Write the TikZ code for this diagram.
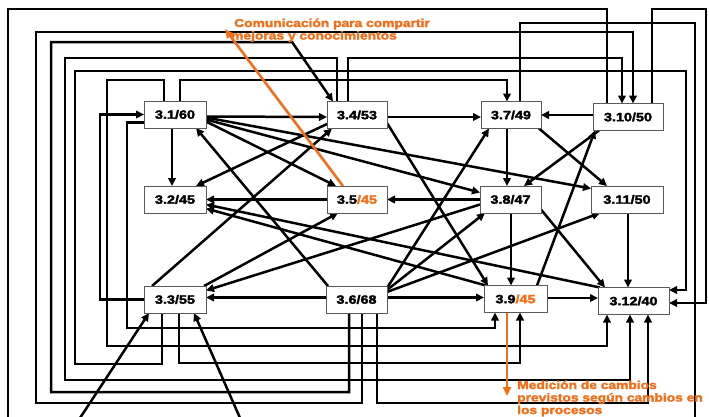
\documentclass[tikz,border=0pt]{standalone}
\usepackage{fontspec}
\setmainfont{Liberation Sans}[FakeStretch=1.2,BoldFeatures={FakeBold=2.5}]
\usetikzlibrary{arrows.meta,calc}
\definecolor{orng}{RGB}{242,110,24}
\definecolor{boxline}{RGB}{90,90,90}
\pgfdeclarelayer{bg}
\pgfsetlayers{bg,main}
\begin{document}
\begin{tikzpicture}[x=1pt,y=-1pt,
  box/.style={draw=boxline,line width=0.9pt,fill=white,inner sep=0pt,outer sep=0pt,minimum height=27pt,font=\fontsize{12}{12}\selectfont\bfseries},
  ln/.style={line width=2.5pt,black},
  arr/.style={ln,-{Triangle[length=8pt,width=7.5pt]}},
  oarr/.style={line width=2.6pt,orng,-{Triangle[length=9pt,width=8pt]}},
  otext/.style={orng,font=\fontsize{11.5}{12.5}\selectfont\bfseries,inner sep=0pt,anchor=base west}
]
\useasboundingbox (0,0) rectangle (709,416);
\begin{pgfonlayer}{bg}
\fill[white] (0,0) rectangle (709,416);
\end{pgfonlayer}

% boxes
\node[box,minimum width=62pt] (A) at (175,114.5) {3.1/60};
\node[box,minimum width=60pt] (B) at (357,115) {3.4/53};
\node[box,minimum width=60pt] (C) at (511,115) {3.7/49};
\node[box,minimum width=70pt] (D) at (628,117) {3.10/50};
\node[box,minimum width=62pt] (E) at (175,199.5) {3.2/45};
\node[box,minimum width=60pt] (F) at (357,199.5) {3.5\textcolor{orng}{/45}};
\node[box,minimum width=61pt] (G) at (510.5,199.5) {3.8/47};
\node[box,minimum width=72pt] (H) at (627,199.5) {3.11/50};
\node[box,minimum width=62pt] (I) at (175,299.5) {3.3/55};
\node[box,minimum width=61pt] (J) at (356.5,299.5) {3.6/68};
\node[box,minimum width=63pt] (K) at (515.5,299) {3.9\textcolor{orng}{/45}};
\node[box,minimum width=71pt] (L) at (633.5,301) {3.12/40};

\coordinate (bl) at (8,417);
\coordinate (br) at (695,417);
\coordinate (in1) at (80,418);
\coordinate (in2) at (240,418);
\coordinate (otip) at (225,29);
\coordinate (mtip) at (507,396);

\begin{pgfonlayer}{bg}
% outer routed connectors
\draw[ln] (bl) |- (607,9) -- ([xshift=14pt]D.north west);
\draw[arr] ([xshift=59pt]D.north west) |- (706,9) |- ([yshift=-2pt]L.east);
\draw[ln] ([xshift=39pt]C.north west) |- (695,23) -- (br);
\draw[arr] ([xshift=36pt]J.south west) |- (36,403) |- (633,32) -- ([xshift=40pt]D.north west);
\draw[arr] ([xshift=23pt]J.south west) |- (51,392) |- (292,42) -- ([xshift=6pt]B.north west);
\draw[arr] ([xshift=10pt]B.north west) |- (65,58) |- (630,380) -- ([xshift=32pt]L.south west);
\draw[arr] ([xshift=21pt]B.north west) |- (622,58) -- ([xshift=29pt]D.north west);
\draw[arr] ([xshift=18pt]I.south west) |- (75,364) |- (686,71) |- ([yshift=11pt]L.east);
\draw[arr] ([xshift=20pt]A.north west) |- (107,80) |- (607,346) -- ([xshift=9pt]L.south west);
\draw[arr] ([xshift=36pt]A.north west) |- (507,80) -- ([xshift=26pt]C.north west);
\draw[arr] (I.west) -| ([xshift=-44pt]A.west) -- (A.west);
\draw[arr] ([yshift=-8pt]A.west) -| (127,328) -| ([xshift=11pt]K.south west);
\draw[arr] ([xshift=35pt]I.south west) |- (520,363) -- ([xshift=36pt]K.south west);
\draw[arr] ([xshift=51pt]J.south west) |- (648,403) -- ([xshift=50pt]L.south west);
\draw[arr] (in1) -- ([xshift=5pt]I.south west);
\draw[arr] (in2) -- ([xshift=-12pt]I.south east);

% direct connectors
\draw[arr] ([yshift=-2pt]A.east) -- ([yshift=-2pt]B.west);
\draw[arr] ([xshift=28pt]A.south west) -- ([xshift=28pt]E.north west);
\draw[arr] ([yshift=-7pt]A.east) -- ([xshift=9pt]F.north west);
\draw[arr] ([yshift=-5pt]A.east) -- ([yshift=7pt]G.west);
\draw[arr] ([yshift=-3pt]A.east) -- ([yshift=11pt]H.west);
\draw[arr] ([xshift=2pt]J.north west) -- ([xshift=-10pt]A.south east);
\draw[arr] ([yshift=-9pt]B.west) -- ([xshift=-10pt]E.north east);
\draw[arr] ([xshift=8pt]I.north west) -- ([xshift=5pt]B.south west);
\draw[arr] ([xshift=-2pt]I.north east) -- ([xshift=11pt]F.south west);
\draw[arr] ([yshift=-5pt]G.west) -- ([yshift=9pt]I.east);
\draw[arr] ([yshift=2pt]J.west) -- ([yshift=2pt]I.east);
\draw[arr] (F.west) -- (E.east);
\draw[arr] (G.west) -- (F.east);
\draw[arr] ([yshift=-2pt]B.east) -- ([yshift=-2pt]C.west);
\draw[arr] ([yshift=-8pt]B.east) -- ([xshift=4pt]K.north west);
\draw[arr] ([yshift=2pt]D.west) -- (C.east);
\draw[arr] ([xshift=26pt]C.south west) -- ([xshift=27pt]G.north west);
\draw[arr] ([xshift=-2pt]C.south east) -- ([xshift=16pt]H.north west);
\draw[arr] ([xshift=6pt]D.south west) -- ([xshift=-17pt]G.north east);
\draw[arr] ([xshift=-10pt]K.north east) -- ([xshift=2pt]D.south west);
\draw[arr] ([xshift=31pt]G.south west) -- ([xshift=27pt]K.north west);
\draw[arr] ([yshift=-10pt]G.east) -- ([xshift=7pt]L.north west);
\draw[arr] ([xshift=37pt]H.south west) -- ([xshift=30pt]L.north west);
\draw[arr] ([yshift=1pt]K.east) -- ([yshift=3pt]L.west);
\draw[arr] ([yshift=2pt]J.east) -- ([yshift=1.5pt]K.west);
\draw[arr] ([yshift=-2pt]J.north east) -- ([xshift=8pt]C.south west);
\draw[arr] ([yshift=-4pt]J.north east) -- ([xshift=5pt]G.south west);
\draw[arr] ([yshift=-6pt]J.north east) -- ([xshift=9pt]H.south west);
\draw[arr] ([xshift=2pt]K.north west) -- ([yshift=-9pt]E.east);
\draw[arr] ([xshift=2pt]L.north west) -- ([yshift=-5pt]E.east);
\end{pgfonlayer}

% orange annotations
\draw[oarr] ([xshift=16pt]F.north west) -- (otip);
\draw[oarr] ([xshift=-8.5pt]K.south) -- (mtip);
\node[otext] (t1) at (234,27) {Comunicación para compartir};
\node[otext] (t2) at (231,39.5) {mejoras y conocimientos};
\node[otext] (t3) at (517,389) {Medición de cambios};
\node[otext] (t4) at (517,401.5) {previstos según cambios en};
\node[otext] (t5) at (517,414) {los procesos};
\end{tikzpicture}
\end{document}
